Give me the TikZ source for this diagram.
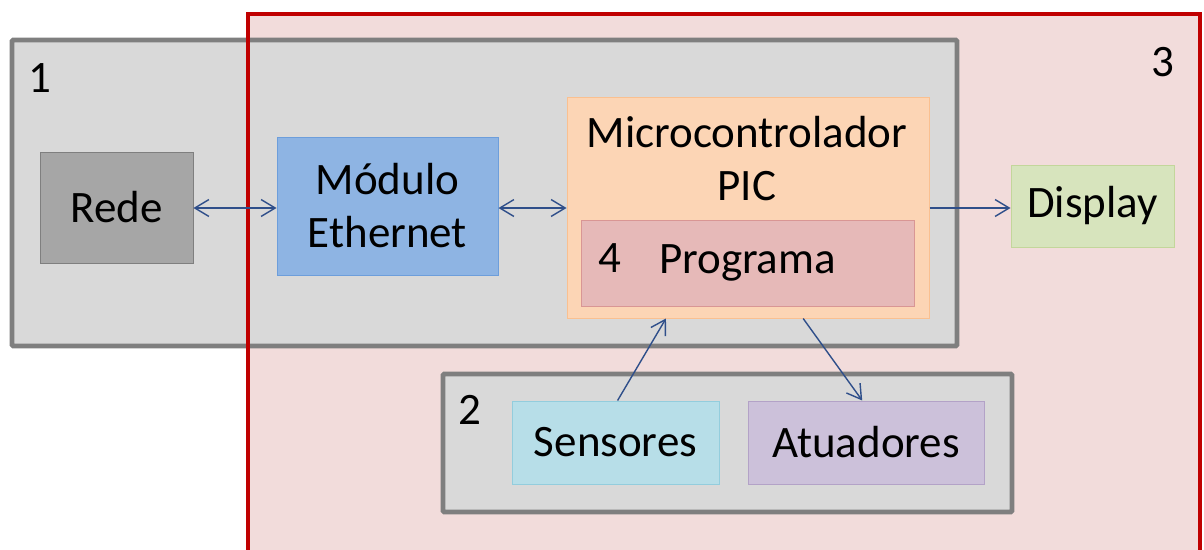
\documentclass[tikz,border=0pt]{standalone}
\usepackage{fontspec}
\setmainfont{Carlito}
\usetikzlibrary{arrows.meta,calc}

\definecolor{zoneRed}{HTML}{C00000}
\definecolor{zonePink}{HTML}{F2DCDB}
\definecolor{grpFill}{HTML}{D9D9D9}
\definecolor{grpLine}{HTML}{7F7F7F}
\definecolor{linkBlue}{HTML}{2F4F8A}

\begin{document}
\begin{tikzpicture}[
  font=\fontsize{32}{37.7}\selectfont,
  blk/.style={draw, line width=0.7pt, inner sep=0pt, align=center},
  grp/.style={draw=grpLine, fill=grpFill, line width=3.5pt, rounded corners=1pt},
  num/.style={inner sep=0pt},
  lnk/.style={draw=linkBlue, line width=1pt, -{Straight Barb[length=10pt,width=12pt]}},
  blnk/.style={lnk, {Straight Barb[length=10pt,width=12pt]}-{Straight Barb[length=10pt,width=12pt]}}
]
  \useasboundingbox (0,0) rectangle (30.1,13.725);
  \clip (0,0) rectangle (30.1,13.725);

  % zone 3 (fill first, border after zone 1)
  \fill[zonePink] (6.2,-1) rectangle (30,13.375);

  % zone 1 and zone 2
  \draw[grp] (0.3,5.075) rectangle (23.925,12.725);
  \draw[grp] (11.075,0.925) rectangle (25.3,4.375);

  \draw[zoneRed, line width=2.9pt] (6.2,-1) rectangle (30,13.375);

  % zone numbers
  \node[num] (n1) at (1.0,11.775) {1};
  \node[num] (n2) at (11.75,3.475) {2};
  \node[num] (n3) at (29.075,12.175) {3};

  % blocks
  \node[blk, draw=grpLine, fill=black!35, minimum width=3.825cm, minimum height=2.775cm] (rede) at (2.9125,8.5375) {Rede};
  \node[blk, draw={rgb,255:red,109;green,158;blue,219}, fill={rgb,255:red,142;green,180;blue,227}, minimum width=5.525cm, minimum height=3.45cm] (ethernet) at (9.6875,8.575) {Módulo\\Ethernet};
  \node[blk, draw={rgb,255:red,250;green,192;blue,144}, fill={rgb,255:red,252;green,213;blue,181}, minimum width=9.05cm, minimum height=5.525cm] (micro) at (18.7,8.5375) {};
  \node[num, align=center] (microtxt) at (18.675,9.75) {Microcontrolador\\PIC};
  \node[blk, draw={rgb,255:red,217;green,150;blue,148}, fill={rgb,255:red,230;green,185;blue,184}, minimum width=8.325cm, minimum height=2.15cm] (programa) at (18.6875,7.15) {Programa};
  \node[num] (n4) at (15.25,7.275) {4};
  \node[blk, draw={rgb,255:red,195;green,214;blue,155}, fill={rgb,255:red,215;green,228;blue,189}, minimum width=4.075cm, minimum height=2.05cm] (display) at (27.3125,8.575) {Display};
  \node[blk, draw={rgb,255:red,147;green,205;blue,221}, fill={rgb,255:red,183;green,222;blue,232}, minimum width=5.175cm, minimum height=2.075cm] (sensores) at (15.3875,2.6625) {Sensores};
  \node[blk, draw={rgb,255:red,179;green,162;blue,199}, fill={rgb,255:red,204;green,193;blue,218}, minimum width=5.9cm, minimum height=2.075cm] (atuadores) at (21.65,2.6625) {Atuadores};

  % links
  \draw[blnk] (rede.east |- 0,8.525) -- (ethernet.west |- 0,8.525);
  \draw[blnk] (ethernet.east |- 0,8.525) -- (micro.west |- 0,8.525);
  \draw[lnk] (micro.east |- 0,8.525) -- (display.west |- 0,8.525);
  \draw[lnk] ($(sensores.north west)!0.51!(sensores.north east)$) -- ($(micro.south west)!0.274!(micro.south east)$);
  \draw[lnk] ($(micro.south west)!0.652!(micro.south east)$) -- ($(atuadores.north west)!0.484!(atuadores.north east)$);
\end{tikzpicture}
\end{document}
